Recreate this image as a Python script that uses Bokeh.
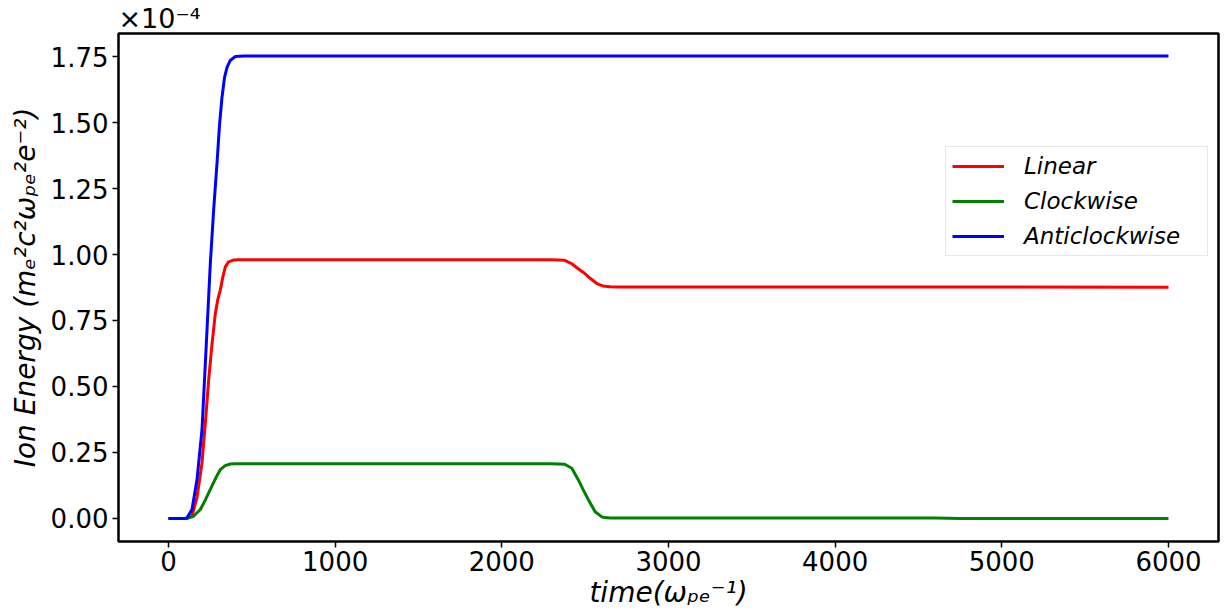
from bokeh.plotting import figure
from bokeh.models import Range1d, FixedTicker, Legend, LegendItem, CustomJSTickFormatter, Title
from bokeh.embed import file_html
from bokeh.resources import INLINE

t_linear = [0, 112, 141, 171, 201, 221, 241, 261, 281, 296, 311, 326, 341, 360, 389, 420,
            2300, 2377, 2420, 2460, 2496, 2530, 2570, 2606, 2650, 2700, 4000, 6000]
e_linear = [0, 0, 0.009, 0.08, 0.21, 0.36, 0.525, 0.66, 0.777, 0.83, 0.866, 0.915, 0.953, 0.972,
            0.979, 0.98, 0.98, 0.978, 0.965, 0.945, 0.929, 0.91, 0.89, 0.881, 0.878, 0.877, 0.877, 0.876]
t_clock = [0, 112, 150, 191, 221, 251, 281, 311, 340, 371, 400, 2300, 2377, 2420, 2460, 2487,
           2520, 2560, 2600, 2616, 2650, 4600, 4750, 4900, 6000]
e_clock = [0, 0, 0.008, 0.034, 0.07, 0.11, 0.15, 0.185, 0.2, 0.206, 0.207, 0.207, 0.205, 0.19,
           0.145, 0.11, 0.07, 0.025, 0.006, 0.003, 0.002, 0.002, 0.0, 0.0, 0.0]
t_anti = [0, 100, 112, 141, 171, 201, 226, 251, 271, 291, 306, 321, 336, 351, 370, 400, 450, 6000]
e_anti = [0, 0, 0.003, 0.034, 0.147, 0.336, 0.65, 0.967, 1.17, 1.345, 1.49, 1.596, 1.67, 1.709,
          1.735, 1.75, 1.752, 1.752]
x_ticks = [0, 1000, 2000, 3000, 4000, 5000, 6000]
y_ticks = [0.0, 0.25, 0.5, 0.75, 1.0, 1.25, 1.5, 1.75]
series_names = ["Linear", "Clockwise", "Anticlockwise"]
series_colors = ["red", "green", "blue"]

FONT = "DejaVu Sans"

p = figure(width=1230, height=615, output_backend="svg", toolbar_location=None,
           x_range=Range1d(-300, 6300), y_range=Range1d(-0.0875, 1.8375),
           min_border_left=118, min_border_right=12, min_border_top=33, min_border_bottom=74)
p.grid.visible = False
p.outline_line_color = "black"
p.outline_line_width = 2.5

title = Title(text="\u00d710\u207b\u2074", align="left", offset=0, standoff=0,
              text_font=FONT, text_font_size="27px", text_font_style="normal",
              text_color="black")
p.add_layout(title, "above")

for ax in (p.xaxis[0], p.yaxis[0]):
    ax.axis_line_color = None
    ax.major_tick_line_color = "black"
    ax.major_tick_line_width = 1.5
    ax.major_tick_out = 6
    ax.major_tick_in = 0
    ax.minor_tick_line_color = None
    ax.major_label_text_font = FONT
    ax.major_label_text_font_size = "26px"
    ax.major_label_text_color = "black"
    ax.axis_label_text_font = FONT
    ax.axis_label_text_font_size = "28px"
    ax.axis_label_text_font_style = "italic"
    ax.axis_label_text_color = "black"
p.xaxis[0].ticker = FixedTicker(ticks=x_ticks)
p.yaxis[0].ticker = FixedTicker(ticks=y_ticks)
p.yaxis[0].formatter = CustomJSTickFormatter(code="return tick.toFixed(2);")
p.xaxis[0].major_label_standoff = 3
p.yaxis[0].major_label_standoff = 4
p.xaxis[0].axis_label_standoff = 2
p.yaxis[0].axis_label_standoff = 6
p.xaxis[0].axis_label = "time(\u03c9\u209a\u2091\u207b\u00b9)"
p.yaxis[0].axis_label = "Ion Energy (m\u2091\u00b2c\u00b2\u03c9\u209a\u2091\u00b2e\u207b\u00b2)"

series = [(t_linear, e_linear), (t_clock, e_clock), (t_anti, e_anti)]
items = []
for (tt, ee), name, col in zip(series, series_names, series_colors):
    r = p.line(tt, ee, line_color=col, line_width=3)
    items.append(LegendItem(label=name, renderers=[r]))

legend = Legend(items=items, location=(827, 285))
legend.label_text_font = FONT
legend.label_text_font_style = "italic"
legend.label_text_font_size = "23px"
legend.label_text_color = "black"
legend.label_height = 26
legend.label_width = 177
legend.glyph_height = 26
legend.glyph_width = 52
legend.label_standoff = 20
legend.spacing = 9
legend.padding = 6
legend.margin = 0
legend.border_line_color = "#d0d0d0"
p.add_layout(legend, "center")

open("out.html", "w").write(file_html(p, INLINE))
